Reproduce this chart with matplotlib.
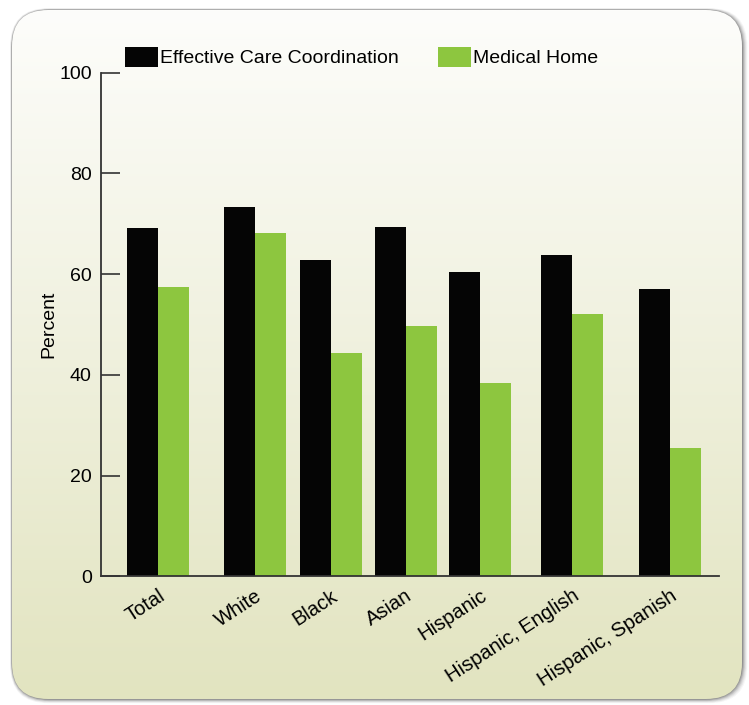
import numpy as np
import matplotlib
matplotlib.use("Agg")
import matplotlib.pyplot as plt
from matplotlib.patches import FancyBboxPatch

plt.rcParams['font.family'] = ['Liberation Sans', 'DejaVu Sans']

# data
groups = ["Total", "White", "Black", "Asian", "Hispanic", "Hispanic, English", "Hispanic, Spanish"]
care_coord = [69.1, 73.4, 62.8, 69.3, 60.4, 63.9, 57.1]
medical_home = [57.5, 68.2, 44.3, 49.8, 38.5, 52.1, 25.6]
series_names = ["Effective Care Coordination", "Medical Home"]
y_ticks = [0, 20, 40, 60, 80, 100]

# group centres (uneven spacing in the original), in bar-width units
group_pos = [1.83, 4.94, 7.40, 9.81, 12.21, 15.19, 18.33]
x_max = 19.91

black = "#050505"
green = "#8dc63f"

fig = plt.figure(figsize=(7.49, 7.05), dpi=100)
fig.patch.set_facecolor("white")

# card background with a soft shadow
bg = fig.add_axes([0, 0, 1, 1], zorder=-10)
bg.set_xlim(0, 749)
bg.set_ylim(705, 0)
bg.axis("off")
for i, a in enumerate([0.04, 0.06, 0.08, 0.11, 0.15, 0.2]):
    off = 6 - i
    sh = FancyBboxPatch((12 - off * 0.3, 10 - off * 0.3), 730 + off * 1.2, 689 + off * 1.0,
                        boxstyle="round,pad=0,rounding_size=38",
                        facecolor="#202020", edgecolor="none", alpha=a)
    bg.add_patch(sh)
card = FancyBboxPatch((12, 10), 730, 689, boxstyle="round,pad=0,rounding_size=36",
                      facecolor="none", edgecolor="none")
bg.add_patch(card)
top_c = np.array([253, 253, 251]) / 255
bot_c = np.array([226, 228, 192]) / 255
t = np.linspace(0, 1, 256)[:, None]
grad = (top_c[None, :] * (1 - t) + bot_c[None, :] * t)[:, None, :]
im = bg.imshow(grad, extent=[12, 742, 699, 10], aspect="auto", zorder=1)
im.set_clip_path(card)

ax = fig.add_axes([0.1354, 0.1823, 0.9594 - 0.1354, 0.8969 - 0.1823])
ax.patch.set_alpha(0)
x = np.array(group_pos)
ax.bar(x - 0.5, care_coord, width=1.0, color=black, label=series_names[0])
ax.bar(x + 0.5, medical_home, width=1.0, color=green, label=series_names[1])

ax.set_xlim(0, x_max)
ax.set_ylim(0, 100)
ax.set_yticks(y_ticks)
ax.tick_params(axis="y", direction="in", length=13.5, width=1.2, color="#333333",
               labelsize=14, pad=7)
ax.tick_params(axis="x", length=0, labelsize=14.5, pad=7)
ax.set_xticks(x)
ax.set_xticklabels(groups, rotation=33, ha="right", rotation_mode="anchor")
for s in ["top", "right"]:
    ax.spines[s].set_visible(False)
for s in ["left", "bottom"]:
    ax.spines[s].set_linewidth(1.3)
    ax.spines[s].set_color("#333333")
ax.set_ylabel("Percent", fontsize=14, labelpad=1)

leg = ax.legend(loc="lower left", bbox_to_anchor=(0.025, 0.995), ncol=2, frameon=False,
                fontsize=14, handlelength=1.7, handleheight=1.25, handletextpad=0.1,
                columnspacing=2.05, borderaxespad=0)

fig.savefig("out.png", dpi=100)
